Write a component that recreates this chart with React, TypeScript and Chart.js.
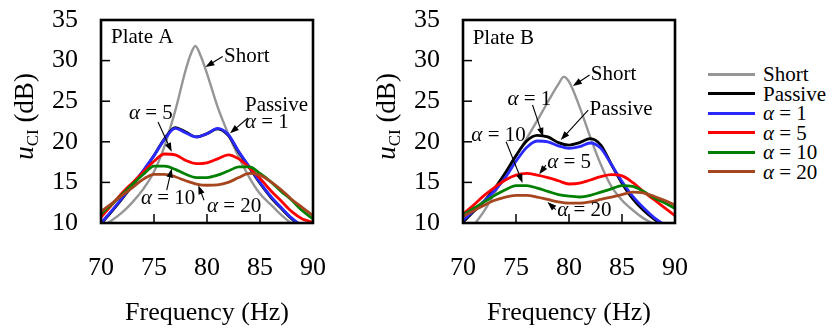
import React, { useEffect, useRef } from "react";
import { Chart, registerables } from "chart.js";

Chart.register(...registerables);

const FONT = "'Liberation Serif', 'Times New Roman', serif";

// ---------- data ----------
const seriesNames = ["Short", "Passive", "α = 1", "α = 5", "α = 10", "α = 20"];
const seriesColors = ["#969696", "#000000", "#2a2aff", "#ff0000", "#008000", "#a5461f"];

const freq = [70, 71, 72, 73, 74, 75, 76, 77, 78, 79, 80, 81, 82, 83, 84, 85, 86, 87, 88, 89, 90];

// Plate A
const freqShortA = [70, 71, 72, 73, 74, 75, 76, 77, 78, 78.5, 78.9, 79.4, 80, 81, 82, 83, 84, 85, 86, 87, 88, 89, 90];
const shortA = [9.5, 10.3, 11.3, 12.6, 14.2, 16.3, 19.5, 23.8, 28.9, 30.9, 31.8, 30.6, 28.4, 24.3, 21.0, 18.1, 15.6, 13.6, 12.3, 11.0, 9.9, 9.0, 8.3];
const passiveA = [9.9, 11.4, 13.0, 14.7, 16.4, 18.3, 20.4, 21.75, 21.2, 20.6, 21.0, 21.6, 20.8, 18.7, 16.8, 14.9, 13.2, 11.8, 10.5, 9.5, 8.7];
const alpha1A = [10.0, 11.5, 13.1, 14.8, 16.5, 18.3, 20.3, 21.65, 21.1, 20.6, 21.0, 21.65, 20.9, 18.8, 16.9, 15.0, 13.3, 11.9, 10.6, 9.6, 8.8];
const alpha5A = [10.7, 12.2, 13.7, 15.0, 16.3, 17.6, 18.5, 18.4, 17.7, 17.3, 17.4, 17.9, 18.4, 17.9, 16.8, 15.5, 14.0, 12.7, 11.4, 10.5, 10.1];
const alpha10A = [11.1, 12.3, 13.5, 14.8, 16.0, 17.0, 17.0, 16.6, 16.0, 15.6, 15.6, 15.9, 16.4, 16.9, 16.9, 16.1, 15.1, 13.9, 12.8, 11.5, 10.5];
const alpha20A = [11.4, 12.4, 13.4, 14.4, 15.4, 16.0, 16.0, 15.7, 15.2, 14.8, 14.65, 14.7, 15.0, 15.6, 16.1, 15.9, 15.1, 14.1, 12.9, 11.9, 10.9];

// Plate B
const freqShortB = [70, 71, 72, 73, 74, 75, 76, 77, 78, 79, 79.5, 80, 81, 82, 83, 84, 85, 86, 87, 88, 89, 90];
const shortB = [8.0, 9.7, 11.5, 13.7, 16.0, 18.2, 20.4, 22.6, 24.9, 27.1, 28.0, 27.4, 24.3, 20.6, 17.2, 14.5, 12.8, 11.6, 10.6, 9.9, 9.2, 8.5];
const passiveB = [10.1, 11.4, 12.7, 14.3, 16.2, 18.3, 20.1, 20.8, 20.6, 19.9, 19.6, 19.9, 20.4, 19.6, 17.2, 14.9, 13.0, 11.6, 10.5, 9.6, 8.9];
const alpha1B = [10.3, 11.5, 12.7, 14.0, 15.6, 17.6, 19.3, 20.1, 20.0, 19.5, 19.2, 19.4, 19.85, 19.2, 17.2, 15.1, 13.3, 11.9, 10.7, 9.8, 9.1];
const alpha5B = [11.1, 12.2, 13.4, 14.4, 15.3, 15.9, 16.1, 15.9, 15.6, 15.2, 14.8, 14.9, 15.3, 15.7, 15.95, 15.8, 15.0, 13.9, 12.9, 11.9, 10.9];
const alpha10B = [11.0, 11.8, 12.6, 13.4, 14.1, 14.6, 14.6, 14.3, 13.9, 13.5, 13.3, 13.2, 13.4, 13.8, 14.2, 14.6, 14.5, 13.9, 13.1, 12.5, 11.8];
const alpha20B = [10.8, 11.5, 12.2, 12.8, 13.2, 13.4, 13.4, 13.2, 12.9, 12.6, 12.45, 12.45, 12.6, 12.9, 13.2, 13.5, 13.8, 13.7, 13.3, 12.8, 12.2];

const xTicks = [70, 75, 80, 85, 90];
const yTicks = [10, 15, 20, 25, 30, 35];

// annotation labels (data coordinates) and arrows
const labelsA = [
  { text: "Plate A", f: 70.94, v: 32.9 },
  { text: "Short", f: 81.6, v: 30.45 },
  { text: "Passive", f: 83.58, v: 24.53 },
  { text: "α = 1", f: 83.58, v: 22.43 },
  { text: "α = 5", f: 72.64, v: 23.54 },
  { text: "α = 10", f: 73.77, v: 13.05 },
  { text: "α = 20", f: 80.0, v: 12.06 },
];
const arrowsA = [
  { f1: 81.48, v1: 30.5, f2: 79.85, v2: 29.2 },
  { f1: 83.87, v1: 22.93, f2: 82.17, v2: 21.04 },
  { f1: 75.38, v1: 22.43, f2: 76.67, v2: 18.77 },
  { f1: 76.2, v1: 14.04, f2: 76.67, v2: 16.72 },
  { f1: 79.72, v1: 12.8, f2: 79.18, v2: 14.65 },
];
const labelsB = [
  { text: "Plate B", f: 70.91, v: 32.68 },
  { text: "Short", f: 82.06, v: 28.23 },
  { text: "α = 1", f: 74.19, v: 25.27 },
  { text: "Passive", f: 81.94, v: 24.04 },
  { text: "α = 10", f: 70.79, v: 20.83 },
  { text: "α = 5", f: 77.94, v: 17.5 },
  { text: "α = 20", f: 78.88, v: 11.57 },
];
const arrowsB = [
  { f1: 81.94, v1: 28.23, f2: 80.37, v2: 26.88 },
  { f1: 76.56, v1: 24.53, f2: 77.56, v2: 20.62 },
  { f1: 81.81, v1: 23.91, f2: 79.22, v2: 20.21 },
  { f1: 74.07, v1: 20.0, f2: 75.62, v2: 14.94 },
  { f1: 77.82, v1: 17.12, f2: 77.19, v2: 16.0 },
  { f1: 78.75, v1: 11.65, f2: 77.97, v2: 12.59 },
];

// ---------- helpers ----------
function drawRich(ctx: CanvasRenderingContext2D, text: string, x: number, y: number, size: number) {
  ctx.textBaseline = "middle";
  ctx.textAlign = "left";
  ctx.fillStyle = "#000";
  if (text.startsWith("α")) {
    ctx.font = `italic ${size}px ${FONT}`;
    ctx.fillText("α", x, y);
    const w = ctx.measureText("α").width;
    ctx.font = `${size}px ${FONT}`;
    ctx.fillText(text.slice(1), x + w, y);
  } else {
    ctx.font = `${size}px ${FONT}`;
    ctx.fillText(text, x, y);
  }
}

function makeFramePlugin(labels: any[], arrows: any[]) {
  return {
    id: "frame",
    afterDraw(chart: any) {
      const { ctx, chartArea: a, scales } = chart;
      const sx = scales.x;
      const sy = scales.y;
      ctx.save();
      ctx.strokeStyle = "#000";
      ctx.lineWidth = 1.5;
      sx.ticks.forEach((t: any) => {
        const px = sx.getPixelForValue(t.value);
        ctx.beginPath();
        ctx.moveTo(px, a.bottom);
        ctx.lineTo(px, a.bottom - 9);
        ctx.stroke();
      });
      sy.ticks.forEach((t: any) => {
        const py = sy.getPixelForValue(t.value);
        ctx.beginPath();
        ctx.moveTo(a.left, py);
        ctx.lineTo(a.left + 9, py);
        ctx.stroke();
      });
      ctx.lineWidth = 2.6;
      ctx.strokeRect(a.left, a.top, a.right - a.left, a.bottom - a.top);

      // arrows
      ctx.lineWidth = 1.1;
      ctx.fillStyle = "#000";
      arrows.forEach((ar) => {
        const x1 = sx.getPixelForValue(ar.f1);
        const y1 = sy.getPixelForValue(ar.v1);
        const x2 = sx.getPixelForValue(ar.f2);
        const y2 = sy.getPixelForValue(ar.v2);
        const ang = Math.atan2(y2 - y1, x2 - x1);
        const hl = 9;
        const hw = 3.2;
        ctx.beginPath();
        ctx.moveTo(x1, y1);
        ctx.lineTo(x2 - Math.cos(ang) * hl * 0.8, y2 - Math.sin(ang) * hl * 0.8);
        ctx.stroke();
        ctx.beginPath();
        ctx.moveTo(x2, y2);
        ctx.lineTo(x2 - Math.cos(ang) * hl - Math.sin(ang) * hw, y2 - Math.sin(ang) * hl + Math.cos(ang) * hw);
        ctx.lineTo(x2 - Math.cos(ang) * hl + Math.sin(ang) * hw, y2 - Math.sin(ang) * hl - Math.cos(ang) * hw);
        ctx.closePath();
        ctx.fill();
      });

      labels.forEach((lb) => {
        drawRich(ctx, lb.text, sx.getPixelForValue(lb.f), sy.getPixelForValue(lb.v), 21);
      });

      // y-axis title: u_CI (dB)
      const cy = (a.top + a.bottom) / 2 - 5;
      ctx.translate(a.left - 68, cy);
      ctx.rotate(-Math.PI / 2);
      ctx.textBaseline = "alphabetic";
      ctx.textAlign = "left";
      ctx.font = `italic 27px ${FONT}`;
      const wu = ctx.measureText("u").width;
      ctx.font = `17px ${FONT}`;
      const wci = ctx.measureText("CI").width;
      ctx.font = `27px ${FONT}`;
      const wdb = ctx.measureText(" (dB)").width;
      let x0 = -(wu + wci + wdb) / 2;
      ctx.font = `italic 27px ${FONT}`;
      ctx.fillText("u", x0, 0);
      x0 += wu;
      ctx.font = `17px ${FONT}`;
      ctx.fillText("CI", x0, 5);
      x0 += wci;
      ctx.font = `27px ${FONT}`;
      ctx.fillText(" (dB)", x0, 0);
      ctx.restore();
    },
  };
}

function buildConfig(fShort: number[], series: number[][], labels: any[], arrows: any[]) {
  const datasets = series.map((vals, i) => {
    const xs = i === 0 ? fShort : freq;
    return {
      label: seriesNames[i],
      data: vals.map((v, k) => ({ x: xs[k], y: v })),
      borderColor: seriesColors[i],
      backgroundColor: seriesColors[i],
      borderWidth: i === 0 ? 2.4 : 2.8,
      pointRadius: 0,
      tension: 0.4,
      cubicInterpolationMode: "monotone" as const,
      fill: false,
      order: 6 - i,
    };
  });
  return {
    type: "line" as const,
    data: { datasets },
    options: {
      animation: false as const,
      responsive: false,
      layout: { padding: { left: 0, right: 17, top: 20, bottom: 0 } },
      plugins: { legend: { display: false }, tooltip: { enabled: false } },
      scales: {
        x: {
          type: "linear" as const,
          min: 70,
          max: 90,
          afterBuildTicks: (s: any) => {
            s.ticks = xTicks.map((v) => ({ value: v }));
          },
          afterFit: (s: any) => {
            s.height = 110;
            s.paddingLeft = 0;
            s.paddingRight = 0;
            s.paddingTop = 0;
            s.paddingBottom = 0;
          },
          ticks: { font: { family: FONT, size: 26 }, color: "#000", padding: 30, maxRotation: 0 },
          grid: { display: false, drawTicks: false },
          border: { display: false },
          title: {
            display: true,
            text: "Frequency (Hz)",
            font: { family: FONT, size: 26 },
            color: "#000",
            padding: { top: 0, bottom: 4 },
          },
        },
        y: {
          type: "linear" as const,
          min: 10,
          max: 35,
          afterBuildTicks: (s: any) => {
            s.ticks = yTicks.map((v) => ({ value: v }));
          },
          afterFit: (s: any) => {
            s.width = 101;
            s.paddingLeft = 0;
            s.paddingRight = 0;
            s.paddingTop = 0;
            s.paddingBottom = 0;
          },
          ticks: { font: { family: FONT, size: 26 }, color: "#000", padding: 23 },
          grid: { display: false, drawTicks: false },
          border: { display: false },
        },
      },
    },
    plugins: [makeFramePlugin(labels, arrows)],
  };
}

function Panel({ cfg, left }: { cfg: any; left: number }) {
  const ref = useRef<HTMLCanvasElement>(null);
  useEffect(() => {
    if (!ref.current) return;
    const chart = new Chart(ref.current, cfg);
    return () => chart.destroy();
  }, [cfg]);
  return (
    <canvas
      ref={ref}
      width={330}
      height={333}
      style={{ position: "absolute", left, top: 0, width: 330, height: 333 }}
    />
  );
}

const cfgA = buildConfig(freqShortA, [shortA, passiveA, alpha1A, alpha5A, alpha10A, alpha20A], labelsA, arrowsA);
const cfgB = buildConfig(freqShortB, [shortB, passiveB, alpha1B, alpha5B, alpha10B, alpha20B], labelsB, arrowsB);

function LegendLabel({ text }: { text: string }) {
  if (text.startsWith("α")) {
    return (
      <span>
        <i>α</i>
        {text.slice(1)}
      </span>
    );
  }
  return <span>{text}</span>;
}

export default function App() {
  useEffect(() => {
    document.body.style.margin = "0";
  }, []);
  const rowY = [74, 93.5, 113, 132.5, 152, 171.5];
  return (
    <div style={{ position: "relative", width: 835, height: 333, background: "#fff", overflow: "hidden" }}>
      <Panel cfg={cfgA} left={0} />
      <Panel cfg={cfgB} left={362} />
      {seriesNames.map((name, i) => (
        <div key={name} style={{ position: "absolute", left: 708, top: rowY[i] - 12, height: 24, width: 127 }}>
          <div
            style={{
              position: "absolute",
              left: 0,
              top: 10.5,
              width: 47,
              height: 3,
              background: seriesColors[i],
            }}
          />
          <div
            style={{
              position: "absolute",
              left: 55,
              top: 0,
              height: 24,
              lineHeight: "24px",
              fontFamily: FONT,
              fontSize: 21,
              color: "#000",
              whiteSpace: "nowrap",
            }}
          >
            <LegendLabel text={name} />
          </div>
        </div>
      ))}
    </div>
  );
}
